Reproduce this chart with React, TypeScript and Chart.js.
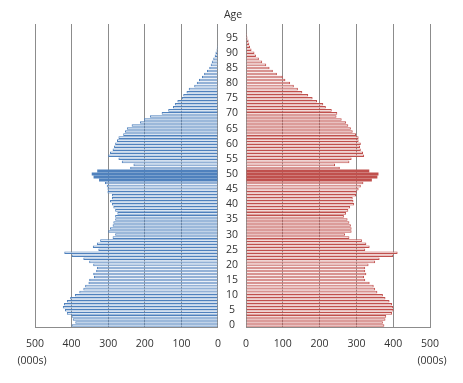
import React, { useEffect, useRef } from "react";
import { Chart, registerables } from "chart.js";

Chart.register(...registerables);

const AGES = [
  "0", "1", "2", "3", "4", "5", "6", "7", "8", "9",
  "10", "11", "12", "13", "14", "15", "16", "17", "18", "19",
  "20", "21", "22", "23", "24", "25", "26", "27", "28", "29",
  "30", "31", "32", "33", "34", "35", "36", "37", "38", "39",
  "40", "41", "42", "43", "44", "45", "46", "47", "48", "49",
  "50", "51", "52", "53", "54", "55", "56", "57", "58", "59",
  "60", "61", "62", "63", "64", "65", "66", "67", "68", "69",
  "70", "71", "72", "73", "74", "75", "76", "77", "78", "79",
  "80", "81", "82", "83", "84", "85", "86", "87", "88", "89",
  "90", "91", "92", "93", "94", "95", "96", "97", "98", "99",
];

const TICK_AGES = ["0", "5", "10", "15", "20", "25", "30", "35", "40", "45", "50", "55", "60", "65", "70", "75", "80", "85", "90", "95"];

const HIGHLIGHT_AGES = ["48", "49", "50", "51"];

// thousands, ages 0..99
const MALE = [
  400, 390, 397, 400, 413, 418, 424, 421, 413, 404,
  391, 379, 368, 363, 354, 352, 339, 341, 333, 331,
  341, 352, 368, 400, 420, 327, 342, 331, 322, 288,
  281, 300, 295, 288, 286, 281, 281, 275, 281, 286,
  290, 295, 290, 290, 302, 302, 304, 309, 325, 340,
  345, 330, 240, 231, 263, 272, 300, 295, 288, 284,
  281, 276, 272, 259, 254, 249, 236, 213, 202, 186,
  154, 136, 123, 118, 111, 99, 95, 86, 80, 65,
  58, 52, 44, 38, 30, 24, 20, 17, 13, 9,
  7, 4, 3, 2, 1, 1, 1, 1, 0.5, 0,
];

const FEMALE = [
  376, 372, 379, 381, 397, 401, 400, 397, 390, 379,
  372, 357, 351, 347, 336, 324, 321, 327, 324, 324,
  333, 351, 363, 400, 412, 324, 336, 327, 315, 281,
  269, 287, 287, 285, 281, 276, 266, 272, 278, 283,
  294, 292, 290, 299, 301, 306, 312, 319, 342, 357,
  360, 335, 255, 242, 281, 287, 321, 318, 312, 310,
  312, 306, 306, 299, 290, 285, 278, 272, 260, 246,
  248, 233, 217, 210, 193, 181, 169, 153, 141, 130,
  120, 107, 100, 84, 73, 64, 55, 44, 35, 27,
  23, 15, 11, 9, 7, 4, 3, 2, 1.5, 1,
];

const X_TICK_MAX = 500;
const X_STEP = 100;

const M_DARK = "#4f81bd";
const M_LIGHT = "#dde7f3";
const F_DARK = "#c0504d";
const F_LIGHT = "#f4dcdb";
const GRID = "#8c8c8c";
const TEXT = "#333333";
const FONT_FAMILY = "'Open Sans', sans-serif";
const FONT_SIZE = 10.5;

const unitsPlugin = (dx: number, withAge: boolean) => ({
  id: "unitsText" + (withAge ? "R" : "L"),
  afterDraw(chart: any) {
    const ctx = chart.ctx;
    const xs = chart.scales.x;
    ctx.save();
    ctx.fillStyle = TEXT;
    ctx.font = `${FONT_SIZE}px ${FONT_FAMILY}`;
    ctx.textAlign = "center";
    ctx.textBaseline = "middle";
    ctx.fillText("(000s)", xs.getPixelForValue(X_TICK_MAX) + dx, 361);
    if (withAge) {
      const ys = chart.scales.y;
      ctx.fillText("Age", (ys.left + ys.right) / 2 + 1, 15);
    }
    ctx.restore();
  },
});

function makeDatasets(values: number[], dark: string, light: string) {
  const normal = values.map((v, i) => (HIGHLIGHT_AGES.includes(AGES[i]) ? null : v));
  const highlighted = values.map((v, i) => (HIGHLIGHT_AGES.includes(AGES[i]) ? v : null));
  return [
    {
      data: normal,
      backgroundColor: light,
      borderColor: dark,
      borderWidth: 1,
      barPercentage: 0.85,
      categoryPercentage: 1,
      grouped: false,
    },
    {
      data: highlighted,
      backgroundColor: dark,
      borderColor: dark,
      borderWidth: 0,
      barPercentage: 1.02,
      categoryPercentage: 1,
      grouped: false,
    },
  ];
}

export default function App() {
  const leftRef = useRef<HTMLCanvasElement>(null);
  const rightRef = useRef<HTMLCanvasElement>(null);

  useEffect(() => {
    const font = { family: FONT_FAMILY, size: FONT_SIZE };
    const left = new Chart(leftRef.current!, {
      type: "bar",
      data: { labels: AGES, datasets: makeDatasets(MALE, M_DARK, M_LIGHT) },
      options: {
        indexAxis: "y",
        animation: false,
        responsive: false,
        maintainAspectRatio: false,
        layout: { padding: { left: 35, right: 14, top: 24, bottom: 26 } },
        plugins: { legend: { display: false }, tooltip: { enabled: false } },
        scales: {
          x: {
            type: "linear",
            reverse: true,
            min: 0,
            max: X_TICK_MAX,
            ticks: { stepSize: X_STEP, padding: 11, color: TEXT, font },
            grid: { color: GRID, drawTicks: false },
            border: { color: GRID },
            afterFit: (s: any) => {
              s.height = 30;
            },
          },
          y: { type: "category", reverse: true, display: false },
        },
      },
      plugins: [unitsPlugin(-3, false)],
    } as any);

    const right = new Chart(rightRef.current!, {
      type: "bar",
      data: { labels: AGES, datasets: makeDatasets(FEMALE, F_DARK, F_LIGHT) },
      options: {
        indexAxis: "y",
        animation: false,
        responsive: false,
        maintainAspectRatio: false,
        layout: { padding: { left: 0, right: 33, top: 24, bottom: 26 } },
        plugins: { legend: { display: false }, tooltip: { enabled: false } },
        scales: {
          x: {
            type: "linear",
            min: 0,
            max: X_TICK_MAX,
            ticks: { stepSize: X_STEP, padding: 11, color: TEXT, font },
            grid: { color: GRID, drawTicks: false },
            border: { color: GRID },
            afterFit: (s: any) => {
              s.height = 30;
            },
          },
          y: {
            type: "category",
            reverse: true,
            position: "left",
            grid: { display: false, drawTicks: false },
            border: { display: false },
            ticks: {
              autoSkip: false,
              crossAlign: "center",
              padding: 8,
              color: TEXT,
              font,
              callback: (_v: any, i: number) => (TICK_AGES.includes(AGES[i]) ? AGES[i] : ""),
            },
            afterFit: (s: any) => {
              s.width = 28;
            },
          },
        },
      },
      plugins: [unitsPlugin(2, true)],
    } as any);

    return () => {
      left.destroy();
      right.destroy();
    };
  }, []);

  return (
    <div style={{ position: "fixed", left: 0, top: 0, width: 463, height: 383, background: "#fff" }}>
      <canvas ref={leftRef} width={232} height={383} style={{ position: "absolute", left: 0, top: 0, width: 232, height: 383 }} />
      <canvas ref={rightRef} width={245} height={383} style={{ position: "absolute", left: 218, top: 0, width: 245, height: 383 }} />
    </div>
  );
}
